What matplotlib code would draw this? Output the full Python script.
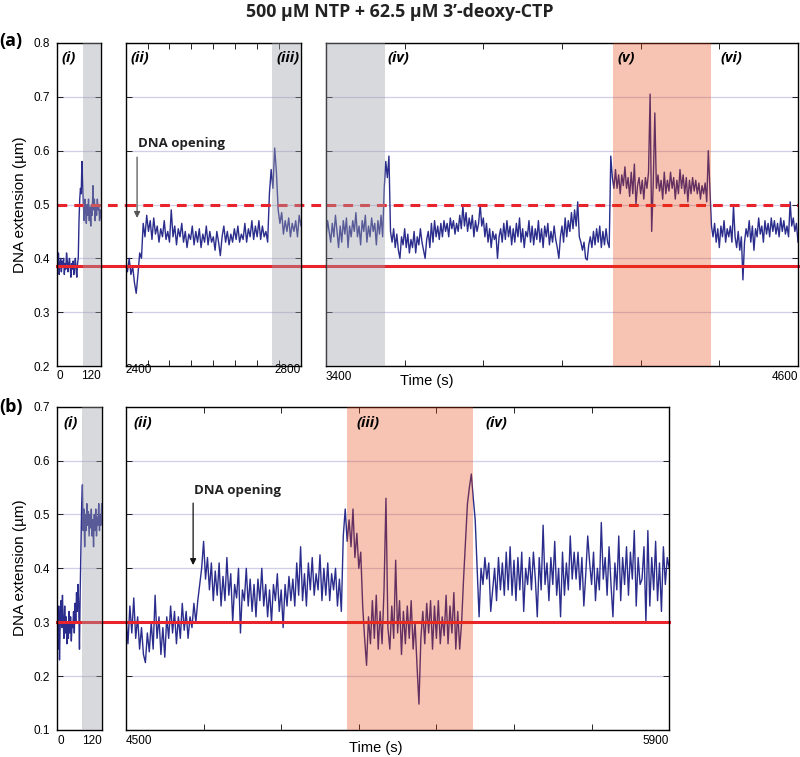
import numpy as np
import matplotlib
matplotlib.use("Agg")
import matplotlib.pyplot as plt

plt.rcParams['font.family'] = ['Liberation Sans', 'DejaVu Sans']

# ---- data ----
title = "500 \u00b5M NTP + 62.5 \u00b5M 3\u2019-deoxy-CTP"

# panel (a)
a1_range = (0, 120)
a1_vals = [0.40, 0.38, 0.41, 0.37, 0.39, 0.40, 0.375, 0.395, 0.385, 0.40, 0.37, 0.39, 0.38, 0.41,
           0.395, 0.375, 0.39, 0.40, 0.385, 0.365, 0.39, 0.38, 0.395, 0.37, 0.385, 0.40, 0.38, 0.365,
           0.39, 0.40, 0.47, 0.51, 0.53, 0.52, 0.58, 0.54, 0.50, 0.47, 0.51, 0.49, 0.465, 0.50, 0.48,
           0.51, 0.47, 0.495, 0.46, 0.50, 0.48, 0.535, 0.49, 0.51, 0.47, 0.50, 0.48, 0.51, 0.49, 0.50,
           0.47, 0.49, 0.475]

a2_range = (2400, 2800)
a2_vals = [0.39, 0.375, 0.40, 0.37, 0.385, 0.355, 0.335, 0.37, 0.41, 0.40, 0.465, 0.44, 0.48, 0.45,
           0.47, 0.435, 0.475, 0.445, 0.46, 0.43, 0.455, 0.44, 0.47, 0.435, 0.45, 0.43, 0.49, 0.44,
           0.46, 0.425, 0.455, 0.44, 0.465, 0.43, 0.45, 0.42, 0.445, 0.435, 0.46, 0.425, 0.45, 0.43,
           0.455, 0.42, 0.445, 0.43, 0.46, 0.425, 0.45, 0.43, 0.44, 0.415, 0.45, 0.43, 0.405, 0.44,
           0.46, 0.43, 0.45, 0.425, 0.445, 0.43, 0.455, 0.435, 0.46, 0.43, 0.445, 0.435, 0.465, 0.43,
           0.455, 0.44, 0.47, 0.435, 0.46, 0.44, 0.47, 0.435, 0.46, 0.44, 0.45, 0.43, 0.52, 0.565,
           0.53, 0.605, 0.56, 0.49, 0.465, 0.485, 0.445, 0.47, 0.45, 0.475, 0.44, 0.465, 0.45, 0.47,
           0.44, 0.48, 0.46]

a3_range = (3400, 4600)
a3_vals = [0.44, 0.47, 0.45, 0.43, 0.465, 0.44, 0.48, 0.45, 0.42, 0.46, 0.43, 0.47, 0.445, 0.475,
           0.42, 0.46, 0.44, 0.47, 0.45, 0.485, 0.44, 0.46, 0.425, 0.47, 0.45, 0.48, 0.43, 0.46,
           0.44, 0.475, 0.45, 0.465, 0.425, 0.47, 0.445, 0.48, 0.44, 0.53, 0.58, 0.55, 0.59, 0.45,
           0.43, 0.455, 0.42, 0.445, 0.415, 0.40, 0.44, 0.425, 0.455, 0.42, 0.445, 0.41, 0.435,
           0.42, 0.45, 0.41, 0.44, 0.425, 0.455, 0.43, 0.415, 0.40, 0.435, 0.45, 0.42, 0.465, 0.43,
           0.47, 0.44, 0.46, 0.435, 0.465, 0.44, 0.47, 0.45, 0.465, 0.44, 0.475, 0.455, 0.47, 0.445,
           0.465, 0.45, 0.48, 0.455, 0.497, 0.46, 0.485, 0.45, 0.475, 0.455, 0.48, 0.44, 0.47, 0.45,
           0.465, 0.50, 0.46, 0.475, 0.44, 0.465, 0.43, 0.455, 0.42, 0.45, 0.435, 0.445, 0.40, 0.44,
           0.455, 0.43, 0.465, 0.435, 0.47, 0.44, 0.46, 0.425, 0.455, 0.43, 0.465, 0.44, 0.475,
           0.43, 0.455, 0.42, 0.45, 0.44, 0.47, 0.43, 0.46, 0.425, 0.455, 0.435, 0.47, 0.43, 0.455,
           0.42, 0.46, 0.44, 0.465, 0.425, 0.45, 0.43, 0.46, 0.435, 0.42, 0.40, 0.44, 0.46, 0.43,
           0.475, 0.44, 0.47, 0.45, 0.485, 0.455, 0.49, 0.46, 0.505, 0.44, 0.43, 0.415, 0.43, 0.40,
           0.397, 0.425, 0.44, 0.42, 0.45, 0.425, 0.455, 0.43, 0.46, 0.42, 0.45, 0.425, 0.455, 0.43,
           0.42, 0.59, 0.55, 0.53, 0.565, 0.53, 0.555, 0.52, 0.555, 0.535, 0.57, 0.53, 0.55, 0.515,
           0.56, 0.52, 0.575, 0.50, 0.535, 0.55, 0.52, 0.545, 0.51, 0.55, 0.53, 0.56, 0.705, 0.45,
           0.54, 0.67, 0.53, 0.555, 0.525, 0.545, 0.51, 0.56, 0.52, 0.545, 0.525, 0.56, 0.53, 0.55,
           0.51, 0.545, 0.52, 0.565, 0.53, 0.555, 0.52, 0.55, 0.505, 0.545, 0.52, 0.55, 0.525, 0.545,
           0.52, 0.54, 0.51, 0.535, 0.52, 0.54, 0.505, 0.60, 0.53, 0.46, 0.44, 0.465, 0.43, 0.455,
           0.42, 0.46, 0.44, 0.47, 0.43, 0.455, 0.44, 0.46, 0.43, 0.497, 0.44, 0.42, 0.45, 0.415,
           0.44, 0.36, 0.43, 0.455, 0.44, 0.47, 0.43, 0.46, 0.415, 0.455, 0.44, 0.475, 0.445, 0.46,
           0.43, 0.47, 0.445, 0.465, 0.44, 0.475, 0.45, 0.47, 0.445, 0.465, 0.44, 0.475, 0.45, 0.47,
           0.445, 0.46, 0.44, 0.505, 0.46, 0.475, 0.45, 0.465, 0.43]

# panel (b)
b1_range = (0, 120)
b1_vals = [0.31, 0.25, 0.33, 0.23, 0.30, 0.34, 0.29, 0.35, 0.30, 0.27, 0.33, 0.28, 0.31, 0.26,
           0.30, 0.27, 0.32, 0.28, 0.31, 0.265, 0.30, 0.29, 0.32, 0.28, 0.335, 0.30, 0.355, 0.32,
           0.37, 0.33, 0.25, 0.36, 0.44, 0.52, 0.555, 0.47, 0.51, 0.44, 0.50, 0.47, 0.52, 0.48,
           0.505, 0.46, 0.50, 0.475, 0.51, 0.46, 0.49, 0.44, 0.50, 0.47, 0.51, 0.46, 0.495, 0.48,
           0.52, 0.47, 0.50, 0.48, 0.52]

b2_range = (4500, 5900)
b2_vals = [0.31, 0.26, 0.33, 0.28, 0.345, 0.27, 0.31, 0.25, 0.29, 0.24, 0.225, 0.28, 0.245, 0.30,
           0.25, 0.35, 0.27, 0.31, 0.24, 0.29, 0.235, 0.31, 0.27, 0.33, 0.28, 0.32, 0.26, 0.31,
           0.27, 0.335, 0.285, 0.32, 0.27, 0.31, 0.29, 0.335, 0.30, 0.34, 0.37, 0.40, 0.45, 0.38,
           0.42, 0.36, 0.41, 0.34, 0.395, 0.35, 0.41, 0.33, 0.385, 0.34, 0.42, 0.35, 0.39, 0.30,
           0.37, 0.345, 0.40, 0.28, 0.36, 0.34, 0.40, 0.33, 0.38, 0.32, 0.37, 0.31, 0.38, 0.34,
           0.40, 0.33, 0.37, 0.31, 0.36, 0.30, 0.37, 0.34, 0.39, 0.32, 0.36, 0.29, 0.37, 0.33,
           0.385, 0.34, 0.38, 0.33, 0.41, 0.35, 0.44, 0.34, 0.39, 0.33, 0.41, 0.36, 0.42, 0.35,
           0.39, 0.36, 0.425, 0.34, 0.40, 0.35, 0.41, 0.34, 0.39, 0.36, 0.40, 0.33, 0.38, 0.32,
           0.46, 0.51, 0.45, 0.49, 0.44, 0.51, 0.42, 0.465, 0.40, 0.43, 0.33, 0.27, 0.22, 0.31,
           0.26, 0.34, 0.27, 0.35, 0.25, 0.32, 0.26, 0.36, 0.53, 0.29, 0.25, 0.33, 0.27, 0.415,
           0.28, 0.34, 0.24, 0.32, 0.26, 0.33, 0.27, 0.34, 0.25, 0.30, 0.22, 0.148, 0.27, 0.32,
           0.26, 0.335, 0.28, 0.34, 0.25, 0.33, 0.27, 0.34, 0.26, 0.31, 0.275, 0.35, 0.26, 0.33,
           0.28, 0.355, 0.25, 0.32, 0.25, 0.30, 0.38, 0.45, 0.52, 0.55, 0.575, 0.53, 0.49, 0.40,
           0.31, 0.40, 0.37, 0.42, 0.38, 0.41, 0.32, 0.36, 0.40, 0.34, 0.42, 0.36, 0.41, 0.35,
           0.43, 0.36, 0.44, 0.35, 0.415, 0.34, 0.42, 0.36, 0.43, 0.32, 0.40, 0.37, 0.42, 0.36,
           0.43, 0.38, 0.31, 0.42, 0.36, 0.48, 0.37, 0.41, 0.34, 0.42, 0.37, 0.45, 0.35, 0.40,
           0.31, 0.43, 0.35, 0.41, 0.36, 0.46, 0.38, 0.43, 0.38, 0.43, 0.36, 0.42, 0.33, 0.39,
           0.46, 0.41, 0.37, 0.43, 0.34, 0.40, 0.36, 0.485, 0.38, 0.42, 0.35, 0.44, 0.37, 0.31,
           0.41, 0.36, 0.46, 0.34, 0.42, 0.37, 0.44, 0.35, 0.43, 0.38, 0.47, 0.33, 0.42, 0.37,
           0.38, 0.44, 0.30, 0.47, 0.33, 0.42, 0.36, 0.45, 0.34, 0.41, 0.32, 0.44, 0.37, 0.42,
           0.40]

# reference levels and shaded windows
a_closed, a_open = 0.385, 0.5
b_closed = 0.3
a_gray = [(70, 120), (2735, 2800), (3400, 3550)]
a_salmon = (4130, 4380)
b_gray = (67, 120)
b_salmon = (5070, 5395)

# ---- style ----
trace_c = '#2b2d8c'
red = '#e8232b'
gray_c = '#9da2aa'
salmon_c = '#e73a00'
grid_c = '#cfcfe8'
bold_font = ['Open Sans', 'DejaVu Sans']

fig = plt.figure(figsize=(8, 7.57), dpi=100)

a1 = fig.add_axes([0.07125, 0.5165, 0.055, 0.4267])
a2 = fig.add_axes([0.1571, 0.5165, 0.2191, 0.4267])
a3 = fig.add_axes([0.4075, 0.5165, 0.59, 0.4267])
b1 = fig.add_axes([0.0716, 0.0357, 0.0555, 0.4271])
b2 = fig.add_axes([0.1575, 0.0357, 0.679, 0.4271])


def trace(ax, rng, vals):
    t = np.linspace(rng[0], rng[1], len(vals))
    ax.plot(t, vals, color=trace_c, lw=1.0, zorder=2)
    ax.set_xlim(*rng)


def style(ax, ylim, yticks, xticks, first, lab_off):
    ax.set_ylim(*ylim)
    ax.set_yticks(yticks)
    ax.set_xticks(xticks)
    ax.set_xticklabels([])
    if first:
        ax.set_yticklabels(['%.1f' % v for v in yticks])
    else:
        ax.set_yticklabels([])
    ax.tick_params(direction='in', length=4, width=0.6, top=True, right=True,
                   labelsize=8.5, pad=5)
    ax.yaxis.grid(True, color=grid_c, lw=0.9)
    ax.set_axisbelow(True)
    for s in ax.spines.values():
        s.set_linewidth(1.0)
    lo, hi = ax.get_xlim()
    ax.text(0, lab_off, '%d' % lo, transform=ax.transAxes, ha='left', va='center', fontsize=8.5)
    ax.text(1, lab_off, '%d' % hi, transform=ax.transAxes, ha='right', va='center', fontsize=8.5)


def red_line(ax, y, nxt, dashed=False):
    # run the level line on through the gap to the next panel
    p = ax.get_position()
    ext = 1.0 if nxt is None else 1 + (nxt.get_position().x0 - p.x1) / p.width
    kw = dict(color=red, lw=2.2, zorder=2.5, clip_on=False)
    if dashed:
        kw['dashes'] = (3.2, 2.3)
    ax.axhline(y, xmin=0, xmax=ext, **kw)


def roman(ax, x, y, s):
    ax.text(x, y, s, transform=ax.transAxes, ha='left', va='center', fontsize=10.5,
            fontweight='bold', style='italic', family=bold_font, zorder=6)


# panel (a)
trace(a1, a1_range, a1_vals)
trace(a2, a2_range, a2_vals)
trace(a3, a3_range, a3_vals)
for ax, span in zip([a1, a2, a3], a_gray):
    ax.axvspan(span[0], span[1], color=gray_c, alpha=0.4, lw=0, zorder=3)
a3.axvspan(a_salmon[0], a_salmon[1], color=salmon_c, alpha=0.3, lw=0, zorder=3)

yt_a = [0.2, 0.3, 0.4, 0.5, 0.6, 0.7, 0.8]
style(a1, (0.2, 0.8), yt_a, [0, 120], True, -0.031)
style(a2, (0.2, 0.8), yt_a, np.arange(2400, 2801, 50), False, -0.012)
style(a3, (0.2, 0.8), yt_a, np.arange(3400, 4601, 200), False, -0.033)

for ax, nxt in [(a1, a2), (a2, a3), (a3, None)]:
    red_line(ax, a_closed, nxt)
    red_line(ax, a_open, nxt, dashed=True)

roman(a1, 0.11, 0.954, '(i)')
roman(a2, 0.029, 0.954, '(ii)')
roman(a2, 0.861, 0.954, '(iii)')
roman(a3, 0.131, 0.954, '(iv)')
roman(a3, 0.618, 0.954, '(v)')
roman(a3, 0.835, 0.954, '(vi)')

a2.annotate('', xy=(2426, 0.475), xytext=(2426, 0.588),
            arrowprops=dict(arrowstyle='-|>', color='#555555', lw=0.9, mutation_scale=9,
                            shrinkA=0, shrinkB=0))
a2.text(2428, 0.614, 'DNA opening', ha='left', va='center', fontsize=9.5,
        fontweight='bold', family=bold_font, color='#222222')

# panel (b)
trace(b1, b1_range, b1_vals)
trace(b2, b2_range, b2_vals)
b1.axvspan(b_gray[0], b_gray[1], color=gray_c, alpha=0.4, lw=0, zorder=3)
b2.axvspan(b_salmon[0], b_salmon[1], color=salmon_c, alpha=0.3, lw=0, zorder=3)

yt_b = [0.1, 0.2, 0.3, 0.4, 0.5, 0.6, 0.7]
style(b1, (0.1, 0.7), yt_b, [0, 120], True, -0.034)
style(b2, (0.1, 0.7), yt_b, np.arange(4500, 5901, 200), False, -0.034)

red_line(b1, b_closed, b2)
red_line(b2, b_closed, None)

roman(b1, 0.135, 0.950, '(i)')
roman(b2, 0.0135, 0.950, '(ii)')
roman(b2, 0.4236, 0.950, '(iii)')
roman(b2, 0.6624, 0.950, '(iv)')

b2.annotate('', xy=(4673, 0.406), xytext=(4673, 0.521),
            arrowprops=dict(arrowstyle='-|>', color='#111111', lw=0.9, mutation_scale=9,
                            shrinkA=0, shrinkB=0))
b2.text(4675, 0.545, 'DNA opening', ha='left', va='center', fontsize=9.5,
        fontweight='bold', family=bold_font, color='#222222')

# figure texts
fig.text(0.5, 1 - 12 / 757, title, ha='center', va='center', fontsize=12.8,
         fontweight='bold', family=bold_font, color='#222222')
fig.text(11 / 800, 1 - 41 / 757, '(a)', ha='center', va='center', fontsize=13,
         fontweight='bold', family=bold_font)
fig.text(11 / 800, 1 - 407 / 757, '(b)', ha='center', va='center', fontsize=13,
         fontweight='bold', family=bold_font)
fig.text(20 / 800, 1 - 204.5 / 757, 'DNA extension (\u00b5m)', rotation=90, ha='center',
         va='center', fontsize=11)
fig.text(20 / 800, 1 - 568 / 757, 'DNA extension (\u00b5m)', rotation=90, ha='center',
         va='center', fontsize=11)
fig.text(427 / 800, 1 - 381 / 757, 'Time (s)', ha='center', va='center', fontsize=10.5)
fig.text(375.5 / 800, 1 - 748 / 757, 'Time (s)', ha='center', va='center', fontsize=10.5)

fig.savefig('out.png', dpi=100)
